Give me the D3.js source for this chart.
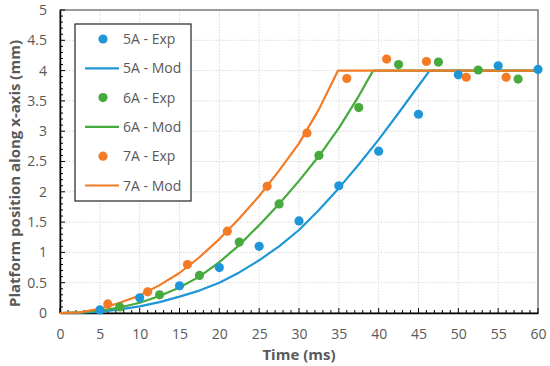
<!DOCTYPE html>
<html>
<head>
<meta charset="utf-8">
<script src="https://cdn.jsdelivr.net/npm/d3@7"></script>
<style>
  body { margin: 0; background: #fff; }
  text { font-family: "Open Sans", Lato, sans-serif; }
</style>
</head>
<body>
<div id="chart"></div>
<script>
var width = 550;
var height = 366;

// series names and colours
var seriesNames = ["5A", "6A", "7A"];
var seriesColours = ["#1f97d6", "#46aa3c", "#f47b25"];

// experimental points [time ms, position mm]
var exp5A = [[5,0.05],[10,0.25],[15,0.45],[20,0.75],[25,1.1],[30,1.52],[35,2.1],[40,2.67],[45,3.28],[50,3.93],[55,4.08],[60,4.02]];
var exp6A = [[7.5,0.1],[12.5,0.3],[17.5,0.62],[22.5,1.17],[27.5,1.8],[32.5,2.6],[37.5,3.39],[42.5,4.1],[47.5,4.14],[52.5,4.01],[57.5,3.86]];
var exp7A = [[6,0.15],[11,0.35],[16,0.8],[21,1.35],[26,2.09],[31,2.97],[36,3.87],[41,4.19],[46,4.15],[51,3.89],[56,3.89]];

// model curves [time ms, position mm]
var mod5A = [[0,0],[2.5,0.005],[5,0.02],[7.5,0.06],[10,0.11],[12.5,0.18],[15,0.27],[17.5,0.37],[20,0.5],[22.5,0.67],[25,0.87],[27.5,1.1],[30,1.37],[32.5,1.7],[35,2.06],[37.5,2.45],[40,2.86],[42.5,3.3],[45,3.75],[46.4,4.0],[60,4.0]];
var mod6A = [[0,0],[2.5,0.01],[5,0.04],[7.5,0.09],[10,0.17],[12.5,0.28],[15,0.42],[17.5,0.6],[20,0.84],[22.5,1.12],[25,1.45],[27.5,1.8],[30,2.18],[32.5,2.59],[35,3.05],[37.5,3.58],[39.3,4.0],[60,4.0]];
var mod7A = [[0,0],[2.5,0.01],[5,0.07],[7.5,0.17],[10,0.29],[12.5,0.46],[15,0.66],[17.5,0.92],[20,1.22],[22.5,1.56],[25,1.93],[27.5,2.35],[30,2.8],[32.5,3.36],[34.9,4.0],[60,4.0]];

var expSeries = [exp5A, exp6A, exp7A];
var modSeries = [mod5A, mod6A, mod7A];

// axis ticks
var xTicks = [0,5,10,15,20,25,30,35,40,45,50,55,60];
var yTicks = [0,0.5,1,1.5,2,2.5,3,3.5,4,4.5,5];

var margin = {left: 60, right: 12, top: 10, bottom: 53};

var svg = d3.select("#chart")
  .append("svg")
  .attr("width", width)
  .attr("height", height);

var x = d3.scaleLinear().domain([0, 60]).range([margin.left, width - margin.right]);
var y = d3.scaleLinear().domain([0, 5]).range([height - margin.bottom, margin.top]);

//Grid lines
var grid = svg.append("g");
grid.selectAll(".vgrid")
  .data(xTicks.slice(1))
  .enter().append("line")
  .attr("x1", function(d) { return x(d); })
  .attr("x2", function(d) { return x(d); })
  .attr("y1", y(0)).attr("y2", y(5))
  .attr("stroke", "#d9d9d9")
  .attr("stroke-dasharray", "1.5,1.5");
grid.selectAll(".hgrid")
  .data(yTicks.slice(1))
  .enter().append("line")
  .attr("x1", x(0)).attr("x2", x(60))
  .attr("y1", function(d) { return y(d); })
  .attr("y2", function(d) { return y(d); })
  .attr("stroke", "#d9d9d9")
  .attr("stroke-dasharray", "1.5,1.5");

//Plot border
svg.append("rect")
  .attr("x", x(0)).attr("y", y(5))
  .attr("width", x(60) - x(0))
  .attr("height", y(0) - y(5))
  .attr("fill", "none")
  .attr("stroke", "#404040")
  .attr("stroke-width", 1);

//Minor ticks
var minorX = d3.range(0, 61, 1);
var minorY = d3.range(0, 51, 1).map(function(d) { return d / 10; });

//X axis, ticks pointing inward
var xAxis = d3.axisBottom(x)
  .tickValues(xTicks)
  .tickFormat(function(d) { return String(d); })
  .tickSize(0)
  .tickPadding(16);
var gx = svg.append("g")
  .attr("transform", "translate(0," + y(0) + ")")
  .call(xAxis);
gx.select(".domain").attr("stroke", "#000").attr("stroke-width", 1.5);
gx.selectAll("text").attr("fill", "#595959").style("font-size", "14px");
gx.selectAll(".minor")
  .data(minorX)
  .enter().append("line")
  .attr("x1", function(d) { return x(d); })
  .attr("x2", function(d) { return x(d); })
  .attr("y1", 0)
  .attr("y2", function(d) { return d % 5 === 0 ? -5 : -3; })
  .attr("stroke", "#000");

//Y axis, ticks pointing inward
var yAxis = d3.axisLeft(y)
  .tickValues(yTicks)
  .tickFormat(function(d) { return String(d); })
  .tickSize(0)
  .tickPadding(13);
var gy = svg.append("g")
  .attr("transform", "translate(" + x(0) + ",0)")
  .call(yAxis);
gy.select(".domain").attr("stroke", "#000").attr("stroke-width", 1.5);
gy.selectAll("text").attr("fill", "#595959").style("font-size", "14px");
gy.selectAll(".minor")
  .data(minorY)
  .enter().append("line")
  .attr("y1", function(d) { return y(d); })
  .attr("y2", function(d) { return y(d); })
  .attr("x1", 0)
  .attr("x2", function(d, i) { return i % 5 === 0 ? 5 : 3; })
  .attr("stroke", "#000");

//Axis titles
svg.append("text")
  .attr("x", (x(0) + x(60)) / 2)
  .attr("y", 360)
  .attr("text-anchor", "middle")
  .attr("fill", "#595959")
  .style("font-size", "15px")
  .style("font-weight", "bold")
  .text("Time (ms)");

svg.append("text")
  .attr("transform", "translate(20," + (y(2.5) + 12) + ") rotate(-90)")
  .attr("text-anchor", "middle")
  .attr("fill", "#595959")
  .style("font-size", "15px")
  .style("font-weight", "bold")
  .text("Platform position along x-axis (mm)");

//Model lines
var line = d3.line()
  .x(function(d) { return x(d[0]); })
  .y(function(d) { return y(d[1]); });

svg.selectAll(".model")
  .data(modSeries)
  .enter().append("path")
  .attr("class", "model")
  .attr("d", line)
  .attr("fill", "none")
  .attr("stroke", function(d, i) { return seriesColours[i]; })
  .attr("stroke-width", 2.2)
  .attr("stroke-linejoin", "round");

//Experimental points
expSeries.forEach(function(pts, i) {
  svg.selectAll(".exp" + i)
    .data(pts)
    .enter().append("circle")
    .attr("class", "exp" + i)
    .attr("cx", function(d) { return x(d[0]); })
    .attr("cy", function(d) { return y(d[1]); })
    .attr("r", 4.6)
    .attr("fill", seriesColours[i]);
});

//Legend
var legend = svg.append("g").attr("transform", "translate(75,24)");
legend.append("rect")
  .attr("x", 0).attr("y", 0)
  .attr("width", 116).attr("height", 177)
  .attr("fill", "#fff")
  .attr("stroke", "#222")
  .attr("stroke-width", 1.2);

var legendItems = [];
seriesNames.forEach(function(n, i) {
  legendItems.push({label: n + " - Exp", type: "exp", colour: seriesColours[i]});
  legendItems.push({label: n + " - Mod", type: "mod", colour: seriesColours[i]});
});

var item = legend.selectAll(".item")
  .data(legendItems)
  .enter().append("g")
  .attr("transform", function(d, i) { return "translate(0," + (15 + i * 29.3) + ")"; });

item.filter(function(d) { return d.type === "exp"; })
  .append("circle")
  .attr("cx", 28).attr("cy", 0).attr("r", 4.6)
  .attr("fill", function(d) { return d.colour; });
item.filter(function(d) { return d.type === "mod"; })
  .append("line")
  .attr("x1", 10).attr("x2", 44)
  .attr("y1", 0).attr("y2", 0)
  .attr("stroke", function(d) { return d.colour; })
  .attr("stroke-width", 2.2);
item.append("text")
  .attr("x", 48).attr("y", 5)
  .attr("fill", "#595959")
  .style("font-size", "14px")
  .text(function(d) { return d.label; });
</script>
</body>
</html>
